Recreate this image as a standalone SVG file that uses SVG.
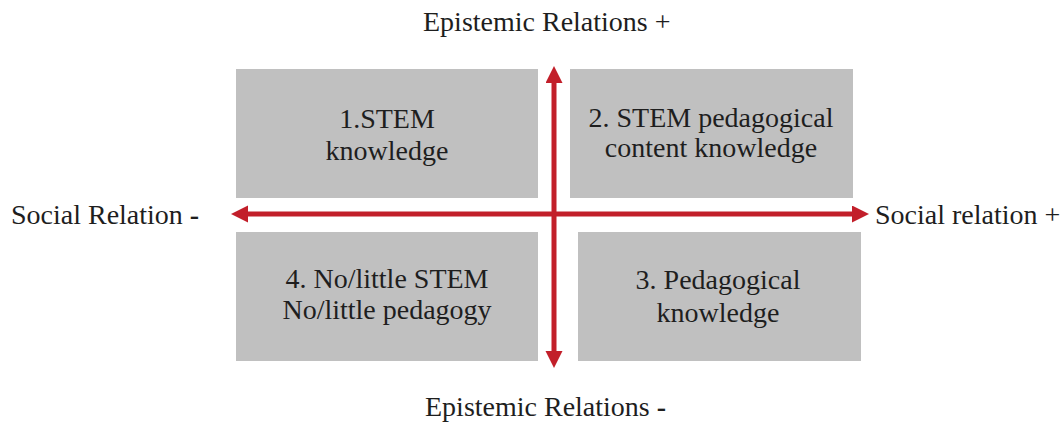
<svg xmlns="http://www.w3.org/2000/svg" width="1064" height="425" viewBox="0 0 1064 425">
  <style>
    .box { fill: #c0c0c0; }
    .t { font-family: "Liberation Serif", "Times New Roman", serif; font-size: 28px; fill: #1e1e1e; }
    .c { text-anchor: middle; }
    .ax { stroke: #c21f2a; stroke-width: 5; fill: none; }
  </style>
  <defs>
    <marker id="ah" markerUnits="userSpaceOnUse" markerWidth="18" markerHeight="18" refX="0" refY="8.5" orient="auto-start-reverse">
      <path d="M0,0 L17,8.5 L0,17 z" fill="#c21f2a"/>
    </marker>
  </defs>
  <rect width="1064" height="425" fill="#ffffff"/>

  <g id="node1">
    <rect class="box" x="236" y="69" width="302" height="129"/>
    <text class="t c" x="387" y="128">1.STEM</text>
    <text class="t c" x="387" y="160">knowledge</text>
  </g>
  <g id="node2">
    <rect class="box" x="570" y="69" width="283" height="129"/>
    <text class="t c" x="711" y="127">2. STEM pedagogical</text>
    <text class="t c" x="711" y="157">content knowledge</text>
  </g>
  <g id="node4">
    <rect class="box" x="236" y="232" width="302" height="129"/>
    <text class="t c" x="387" y="288">4. No/little STEM</text>
    <text class="t c" x="387" y="319">No/little pedagogy</text>
  </g>
  <g id="node3">
    <rect class="box" x="578" y="232" width="283" height="129"/>
    <text class="t c" x="718" y="289">3. Pedagogical</text>
    <text class="t c" x="718" y="322">knowledge</text>
  </g>

  <g id="connectors">
    <line class="ax" x1="554" y1="83" x2="554" y2="351" marker-start="url(#ah)" marker-end="url(#ah)"/>
    <line class="ax" x1="248" y1="214" x2="852" y2="214" marker-start="url(#ah)" marker-end="url(#ah)"/>
  </g>

  <g id="labels">
    <text class="t" x="423" y="31">Epistemic Relations +</text>
    <text class="t" x="425" y="416">Epistemic Relations <tspan font-weight="bold">-</tspan></text>
    <text class="t" x="11" y="224">Social Relation <tspan font-weight="bold">-</tspan></text>
    <text class="t" x="875" y="224">Social relation +</text>
  </g>
</svg>
